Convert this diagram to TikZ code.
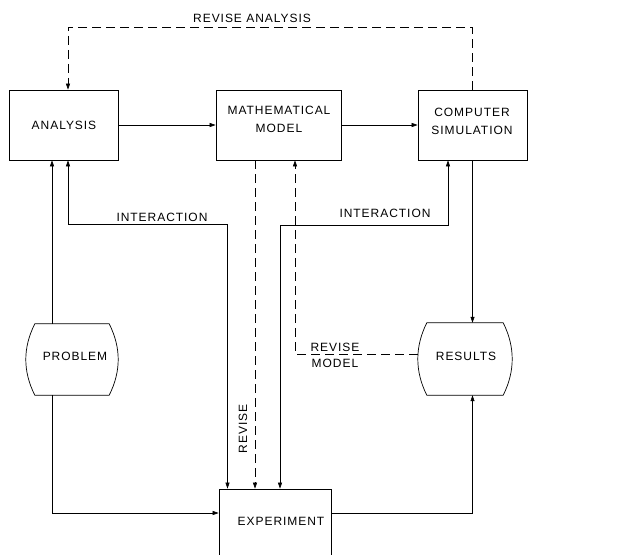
\documentclass[tikz,border=0pt]{standalone}
\usepackage{fontspec}
\setmainfont{Liberation Sans}[LetterSpace=8]
\usetikzlibrary{arrows.meta,calc}
\tikzset{
  box/.style={draw, line width=0.7pt, inner sep=0pt},
  lbl/.style={inner sep=0pt, align=center, font=\fontsize{12}{18}\selectfont},
  conn/.style={line width=0.6pt},
  tip/.style={-{Triangle[length=6pt,width=4pt]}},
  dtip/.style={{Triangle[length=6pt,width=4pt]}-{Triangle[length=6pt,width=4pt]}},
  dsh/.style={dash pattern=on 9pt off 5pt},
}
\newcommand\barrelshape[1]{\draw[line width=0.7pt] ($(#1.north west)+(9,0)$) -- ($(#1.north east)+(-9,0)$) .. controls ($(#1.north east)+(3,24)$) and ($(#1.south east)+(3,-24)$) .. ($(#1.south east)+(-9,0)$) -- ($(#1.south west)+(9,0)$) .. controls ($(#1.south west)+(-3,-24)$) and ($(#1.north west)+(-3,24)$) .. cycle;}
\begin{document}
\begin{tikzpicture}[x=1pt,y=-1pt]
\useasboundingbox (0,0) rectangle (623,554);
\clip (0,0) rectangle (623,554);
\fill[white] (0,0) rectangle (623,554);
% boxes
\node[box, minimum width=109, minimum height=70] (an) at (63.5,125) {};
\node[box, minimum width=125, minimum height=70] (mm) at (278.5,125) {};
\node[box, minimum width=109, minimum height=70] (cs) at (472.5,125) {};
\node[box, minimum width=112, minimum height=90] (exp) at (275,534) {};
\node[inner sep=0pt, minimum width=92, minimum height=71] (prob) at (72,359.5) {};
\node[inner sep=0pt, minimum width=94, minimum height=72] (res) at (465,359) {};
\barrelshape{prob}
\barrelshape{res}
% texts
\node[lbl] (anT) at (64,125) {ANALYSIS};
\node[lbl] (mmT) at (279,119) {MATHEMATICAL\\MODEL};
\node[lbl] (csT) at (472,121) {COMPUTER\\SIMULATION};
\node[lbl] (expT) at (281,521) {EXPERIMENT};
\node[lbl] (probT) at (75,356) {PROBLEM};
\node[lbl] (resT) at (466,356) {RESULTS};
\node[lbl] (raT) at (252,18) {REVISE ANALYSIS};
\node[lbl] (int1) at (162,217) {INTERACTION};
\node[lbl] (int2) at (385,213) {INTERACTION};
\node[lbl, rotate=90] (revT) at (243,429) {REVISE};
\node[lbl, font=\fontsize{12}{16}\selectfont] (rmT) at (335,355) {REVISE\\MODEL};
% coordinates
\coordinate (xa) at (52,0);
\coordinate (xb) at (68,27);
\coordinate (k1) at (227.5,224);
\coordinate (k2) at (448,225);
\coordinate (xm) at (255,0);
\coordinate (xr) at (295,354);
\coordinate (ey) at (0,513);
% connectors
\draw[conn,tip] (an.east) -- (mm.west);
\draw[conn,tip] (mm.east) -- (cs.west);
\draw[conn,tip] (cs.south) -- (cs.south |- res.north);
\draw[conn,tip,dsh] (cs.north) |- (xb) -- (an.north -| xb);
\draw[conn,tip] (prob.north -| xa) -- (an.south -| xa);
\draw[conn,dtip] (an.south -| xb) |- (k1) -- (exp.north -| k1);
\draw[conn,tip,dsh] (mm.south -| xm) -- (exp.north -| xm);
\draw[conn,dtip] (exp.north -| 280,0) |- (k2) -- (cs.south -| k2);
\draw[conn,tip,dsh] (res.west |- xr) -- (xr) -- (mm.south -| xr);
\draw[conn,tip] (prob.south -| xa) |- (exp.west |- ey);
\draw[conn,tip] (exp.east |- ey) -| (res.south -| cs.south);
\end{tikzpicture}
\end{document}
